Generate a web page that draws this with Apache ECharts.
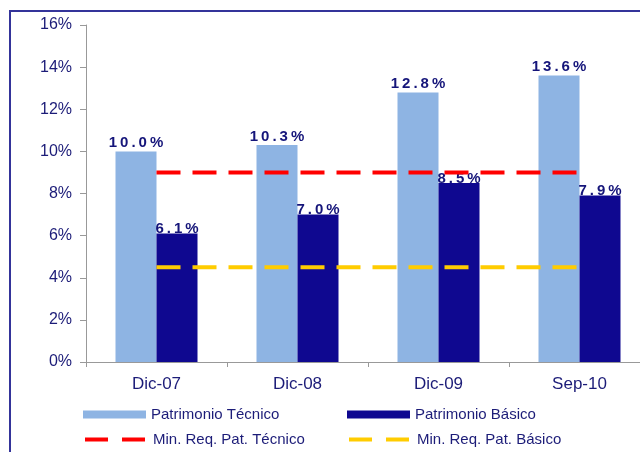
<!DOCTYPE html>
<html>
<head>
<meta charset="utf-8">
<script src="https://cdn.jsdelivr.net/npm/echarts@6/dist/echarts.min.js"></script>
<style>
html,body{margin:0;padding:0;background:#fff;overflow:hidden;width:640px;height:452px;}
#chart{width:660px;height:452px;}
</style>
</head>
<body>
<div id="chart"></div>
<script>
const categories = ['Dic-07', 'Dic-08', 'Dic-09', 'Sep-10'];
const patrimonioTecnico = [10.0, 10.3, 12.8, 13.6];
const patrimonioBasico = [6.1, 7.0, 8.5, 7.9];
const minReqTecnico = [9, 9, 9, 9];
const minReqBasico = [4.5, 4.5, 4.5, 4.5];
const seriesNames = ['Patrimonio Técnico', 'Patrimonio Básico', 'Min. Req. Pat. Técnico', 'Min. Req. Pat. Básico'];

const navy = '#1c1c78';
const fontFamily = '"Liberation Sans", Arial, sans-serif';

function spaced(v) {
  return (v.toFixed(1) + '%').split('').join('\u2009');
}

const chart = echarts.init(document.getElementById('chart'), null, {renderer: 'canvas'});

function legendBlock(name, left, top, isLine) {
  const l = {
    data: [isLine ? name : {name: name, icon: 'rect'}],
    left: left,
    top: top,
    padding: 0,
    orient: 'horizontal',
    itemWidth: 63,
    itemHeight: 8,
    selectedMode: false,
    textStyle: {color: navy, fontSize: 15, fontFamily: fontFamily}
  };
  if (isLine) {
    l.lineStyle = {type: [23, 14], width: 4};
    l.itemStyle = {opacity: 0};
  }
  return l;
}

chart.setOption({
  animation: false,
  backgroundColor: '#ffffff',
  graphic: [{
    type: 'rect',
    shape: {x: 10, y: 11, width: 700, height: 520},
    style: {fill: 'none', stroke: '#34349a', lineWidth: 2},
    silent: true
  }],
  legend: [
    legendBlock(seriesNames[0], 83, 407, false),
    legendBlock(seriesNames[1], 347, 407, false),
    legendBlock(seriesNames[2], 83, 432, true),
    legendBlock(seriesNames[3], 347, 432, true)
  ],
  grid: {left: 86, top: 25, right: 10, bottom: 90, containLabel: false},
  xAxis: {
    type: 'category',
    data: categories,
    boundaryGap: true,
    axisLine: {lineStyle: {color: '#999999', width: 1}},
    axisTick: {show: true, length: 5, lineStyle: {color: '#999999'}},
    axisLabel: {color: navy, fontSize: 17, fontFamily: fontFamily, margin: 14}
  },
  yAxis: {
    type: 'value',
    min: 0,
    max: 16,
    interval: 2,
    splitLine: {show: false},
    axisLine: {show: true, lineStyle: {color: '#999999', width: 1}},
    axisTick: {show: true, length: 6, lineStyle: {color: '#999999'}},
    axisLabel: {color: navy, fontSize: 16, fontFamily: fontFamily, margin: 14, formatter: '{value}%'}
  },
  series: [
    {
      name: seriesNames[0],
      type: 'bar',
      data: patrimonioTecnico,
      barWidth: 41,
      barGap: '0%',
      itemStyle: {color: '#8eb4e3'},
      label: {
        show: true, position: 'top', distance: 1,
        color: '#15157a', fontWeight: 'bold', fontSize: 15, fontFamily: fontFamily,
        formatter: p => spaced(p.value)
      }
    },
    {
      name: seriesNames[1],
      type: 'bar',
      data: patrimonioBasico,
      barWidth: 41,
      barGap: '0%',
      itemStyle: {color: '#0f0890'},
      label: {
        show: true, position: 'top', distance: -3,
        color: '#15157a', fontWeight: 'bold', fontSize: 15, fontFamily: fontFamily,
        formatter: p => spaced(p.value)
      }
    },
    {
      name: seriesNames[2],
      type: 'line',
      data: minReqTecnico,
      symbol: 'none',
      itemStyle: {color: '#ff0000'},
      lineStyle: {color: '#ff0000', width: 4, type: [24, 12]}
    },
    {
      name: seriesNames[3],
      type: 'line',
      data: minReqBasico,
      symbol: 'none',
      itemStyle: {color: '#ffcc00'},
      lineStyle: {color: '#ffcc00', width: 4, type: [24, 12]}
    }
  ]
});
</script>
</body>
</html>
